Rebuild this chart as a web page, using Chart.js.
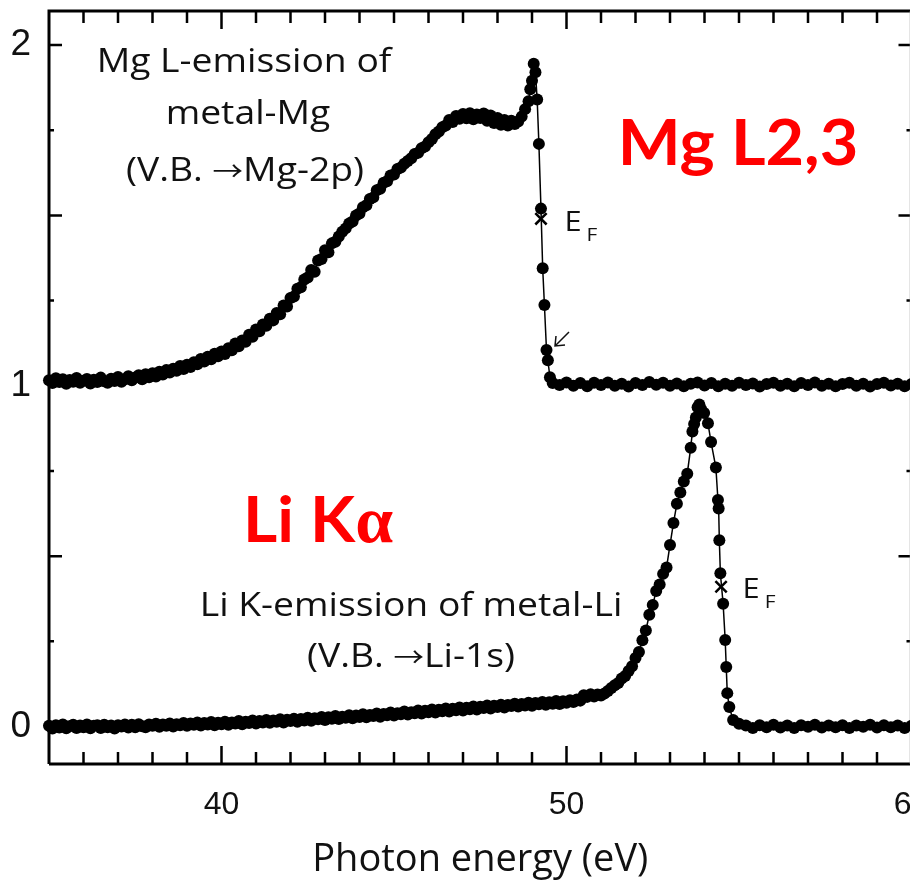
<!DOCTYPE html>
<html>
<head>
<meta charset="utf-8">
<script src="https://cdn.jsdelivr.net/npm/chart.js@4/dist/chart.umd.min.js"></script>
<style>
  html, body { margin: 0; padding: 0; background: #fff; overflow: hidden; }
</style>
</head>
<body>
<canvas id="chart" width="922" height="885"></canvas>
<script>
// Mg L-emission (shifted up by 1)
const mgEnergy = [
  35.0, 35.1, 35.2, 35.3, 35.4, 35.5, 35.6, 35.7, 35.8, 35.9,
  36.0, 36.1, 36.2, 36.3, 36.4, 36.5, 36.6, 36.7, 36.8, 36.9,
  37.0, 37.1, 37.2, 37.3, 37.4, 37.5, 37.6, 37.7, 37.8, 37.9,
  38.0, 38.1, 38.2, 38.3, 38.4, 38.5, 38.6, 38.7, 38.8, 38.9,
  39.0, 39.1, 39.2, 39.3, 39.4, 39.5, 39.6, 39.7, 39.8, 39.9,
  40.0, 40.1, 40.2, 40.3, 40.4, 40.5, 40.6, 40.7, 40.8, 40.9,
  41.0, 41.1, 41.2, 41.3, 41.4, 41.5, 41.6, 41.7, 41.8, 41.9,
  42.0, 42.1, 42.2, 42.3, 42.4, 42.5, 42.6, 42.7, 42.8, 42.9,
  43.0, 43.1, 43.2, 43.3, 43.4, 43.5, 43.6, 43.7, 43.8, 43.9,
  44.0, 44.1, 44.2, 44.3, 44.4, 44.5, 44.6, 44.7, 44.8, 44.9,
  45.0, 45.1, 45.2, 45.3, 45.4, 45.5, 45.6, 45.7, 45.8, 45.9,
  46.0, 46.1, 46.2, 46.3, 46.4, 46.5, 46.6, 46.7, 46.8, 46.9,
  47.0, 47.1, 47.2, 47.3, 47.4, 47.5, 47.6, 47.7, 47.8, 47.9,
  48.0, 48.1, 48.2, 48.3, 48.4, 48.5, 48.6, 48.7, 48.8,
  48.9, 48.95, 49.0, 49.05, 49.1, 49.15, 49.2, 49.26, 49.31, 49.36,
  49.42, 49.46, 49.52, 49.6,
  49.8, 50.0, 50.2, 50.4, 50.6, 50.8, 51.0, 51.2, 51.4, 51.6,
  51.8, 52.0, 52.2, 52.4, 52.6, 52.8, 53.0, 53.2, 53.4, 53.6,
  53.8, 54.0, 54.2, 54.4, 54.6, 54.8, 55.0, 55.2, 55.4, 55.6,
  55.8, 56.0, 56.2, 56.4, 56.6, 56.8, 57.0, 57.2, 57.4, 57.6,
  57.8, 58.0, 58.2, 58.4, 58.6, 58.8, 59.0, 59.2, 59.4, 59.6,
  59.8, 60.0
];
const mgIntensity = [
  1.016, 1.008, 1.022, 1.011, 1.019, 1.006, 1.017, 1.012, 1.023, 1.009,
  1.015, 1.020, 1.007, 1.018, 1.011, 1.024, 1.013, 1.009, 1.021, 1.014,
  1.026, 1.012, 1.019, 1.028, 1.016, 1.024, 1.031, 1.019, 1.034, 1.025,
  1.037, 1.027, 1.041, 1.033, 1.046, 1.039, 1.050, 1.044, 1.058, 1.049,
  1.062, 1.055, 1.069, 1.063, 1.079, 1.071, 1.085, 1.078, 1.094, 1.087,
  1.101, 1.093, 1.110, 1.104, 1.124, 1.116, 1.133, 1.129, 1.150, 1.144,
  1.165, 1.160, 1.180, 1.176, 1.197, 1.192, 1.214, 1.210, 1.236, 1.233,
  1.258, 1.262, 1.285, 1.289, 1.312, 1.318, 1.340, 1.335, 1.368, 1.372,
  1.398, 1.392, 1.418, 1.423, 1.438, 1.452, 1.462, 1.476, 1.482, 1.500,
  1.506, 1.524, 1.530, 1.548, 1.553, 1.574, 1.578, 1.596, 1.600, 1.617,
  1.620, 1.636, 1.641, 1.652, 1.660, 1.668, 1.680, 1.684, 1.697, 1.702,
  1.715, 1.724, 1.738, 1.746, 1.759, 1.764, 1.780, 1.774, 1.792, 1.784,
  1.798, 1.785, 1.800, 1.782, 1.796, 1.786, 1.799, 1.778, 1.793, 1.771,
  1.786, 1.766, 1.780, 1.764, 1.778, 1.768, 1.776, 1.790, 1.812,
  1.835, 1.870, 1.895, 1.945, 1.920, 1.840, 1.710, 1.520, 1.345, 1.237,
  1.105, 1.075, 1.025, 1.008,
  1.002, 1.010, 1.000, 1.008, 0.999, 1.009, 1.002, 1.010, 1.000, 1.006,
  0.998, 1.008, 1.002, 1.011, 1.003, 1.009, 1.000, 1.007, 0.999, 1.006,
  1.010, 1.001, 1.008, 0.999, 1.006, 1.000, 1.009, 1.002, 1.007, 0.998,
  1.005, 1.009, 1.000, 1.006, 0.999, 1.008, 1.002, 1.010, 1.000, 1.006,
  0.999, 1.005, 1.009, 1.000, 1.006, 0.998, 1.005, 1.009, 1.001, 1.006,
  0.999, 1.005
];

// Li K-emission
const liEnergy = [
  35.0, 35.1, 35.2, 35.3, 35.4, 35.5, 35.6, 35.7, 35.8, 35.9,
  36.0, 36.1, 36.2, 36.3, 36.4, 36.5, 36.6, 36.7, 36.8, 36.9,
  37.0, 37.1, 37.2, 37.3, 37.4, 37.5, 37.6, 37.7, 37.8, 37.9,
  38.0, 38.1, 38.2, 38.3, 38.4, 38.5, 38.6, 38.7, 38.8, 38.9,
  39.0, 39.1, 39.2, 39.3, 39.4, 39.5, 39.6, 39.7, 39.8, 39.9,
  40.0, 40.1, 40.2, 40.3, 40.4, 40.5, 40.6, 40.7, 40.8, 40.9,
  41.0, 41.1, 41.2, 41.3, 41.4, 41.5, 41.6, 41.7, 41.8, 41.9,
  42.0, 42.1, 42.2, 42.3, 42.4, 42.5, 42.6, 42.7, 42.8, 42.9,
  43.0, 43.1, 43.2, 43.3, 43.4, 43.5, 43.6, 43.7, 43.8, 43.9,
  44.0, 44.1, 44.2, 44.3, 44.4, 44.5, 44.6, 44.7, 44.8, 44.9,
  45.0, 45.1, 45.2, 45.3, 45.4, 45.5, 45.6, 45.7, 45.8, 45.9,
  46.0, 46.1, 46.2, 46.3, 46.4, 46.5, 46.6, 46.7, 46.8, 46.9,
  47.0, 47.1, 47.2, 47.3, 47.4, 47.5, 47.6, 47.7, 47.8, 47.9,
  48.0, 48.1, 48.2, 48.3, 48.4, 48.5, 48.6, 48.7, 48.8, 48.9,
  49.0, 49.1, 49.2, 49.3, 49.4, 49.5, 49.6, 49.7, 49.8, 49.9,
  50.0, 50.1, 50.2, 50.3, 50.4, 50.5, 50.6, 50.7, 50.8, 50.9,
  51.0, 51.1, 51.2, 51.3, 51.4, 51.5, 51.6, 51.7, 51.8, 51.9,
  52.0, 52.1, 52.2, 52.3, 52.4, 52.5, 52.6, 52.7, 52.8, 52.9,
  53.0, 53.1, 53.2, 53.3, 53.4, 53.5, 53.6, 53.65, 53.7, 53.75,
  53.8, 53.85, 53.9, 53.99, 54.1, 54.19, 54.33, 54.39, 54.41, 54.43,
  54.46, 54.54, 54.6, 54.63, 54.66, 54.72, 54.83, 55.0,
  55.2, 55.4, 55.6, 55.8, 56.0, 56.2, 56.4, 56.6, 56.8, 57.0,
  57.2, 57.4, 57.6, 57.8, 58.0, 58.2, 58.4, 58.6, 58.8, 59.0,
  59.2, 59.4, 59.6, 59.8, 60.0
];
const liIntensity = [
  0.002, -0.006, 0.004, -0.003, 0.006, -0.005, 0.001, 0.005, -0.004, 0.003,
  -0.002, 0.006, -0.005, 0.002, 0.004, -0.004, 0.005, -0.002, 0.003, -0.006,
  0.004, 0.000, 0.006, -0.003, 0.005, -0.002, 0.007, 0.001, -0.002, 0.006,
  0.002, 0.008, -0.001, 0.006, 0.002, 0.009, 0.000, 0.007, 0.004, 0.010,
  0.002, 0.009, 0.005, 0.012, 0.003, 0.010, 0.006, 0.013, 0.004, 0.011,
  0.007, 0.014, 0.005, 0.012, 0.009, 0.016, 0.007, 0.014, 0.010, 0.018,
  0.009, 0.016, 0.012, 0.019, 0.011, 0.018, 0.014, 0.021, 0.012, 0.020,
  0.016, 0.023, 0.014, 0.022, 0.018, 0.026, 0.017, 0.024, 0.021, 0.028,
  0.019, 0.027, 0.023, 0.031, 0.022, 0.029, 0.026, 0.033, 0.024, 0.032,
  0.028, 0.036, 0.027, 0.034, 0.031, 0.038, 0.029, 0.037, 0.033, 0.041,
  0.032, 0.039, 0.036, 0.044, 0.035, 0.042, 0.039, 0.047, 0.038, 0.046,
  0.042, 0.050, 0.041, 0.049, 0.045, 0.053, 0.044, 0.052, 0.048, 0.056,
  0.047, 0.055, 0.051, 0.059, 0.050, 0.058, 0.054, 0.062, 0.053, 0.061,
  0.057, 0.064, 0.056, 0.063, 0.060, 0.067, 0.059, 0.066, 0.062, 0.070,
  0.061, 0.069, 0.065, 0.072, 0.064, 0.071, 0.067, 0.075, 0.066, 0.074,
  0.070, 0.077, 0.072, 0.079, 0.076, 0.092, 0.087, 0.095, 0.088, 0.094,
  0.091, 0.097, 0.104, 0.113, 0.121, 0.128, 0.141, 0.148, 0.163, 0.177,
  0.201, 0.219, 0.253, 0.282, 0.328, 0.357, 0.398, 0.417, 0.448, 0.467,
  0.533, 0.597, 0.654, 0.687, 0.719, 0.742, 0.818, 0.866, 0.888, 0.907,
  0.937, 0.945, 0.932, 0.920, 0.890, 0.835, 0.760, 0.665, 0.640, 0.547,
  0.450, 0.360, 0.254, 0.175, 0.098, 0.057, 0.019, 0.008,
  0.003, -0.004, 0.004, -0.002, 0.005, -0.003, 0.003, -0.004, 0.004, -0.001,
  0.005, -0.003, 0.003, -0.002, 0.004, -0.004, 0.003, -0.001, 0.005, -0.003,
  0.004, -0.002, 0.003, -0.004, 0.002
];

// Fermi level marks
const fermiEnergy = [49.26, 54.48];
const fermiIntensity = [1.49, 0.41];

const xLabelTicks = [40, 50, 60];
const xMinorTicks = [36, 37, 38, 39, 41, 42, 43, 44, 45, 46, 47, 48, 49, 51, 52, 53, 54, 55, 56, 57, 58, 59];
const yLabelTicks = [0, 1, 2];
const yHalfTicks = [0.5, 1.5];
const yQuarterTicks = [0.25, 0.75, 1.25, 1.75];

const toPoints = (xs, ys) => xs.map((x, i) => ({ x: x, y: ys[i] }));

const frame = {
  id: 'frame',
  beforeDatasetsDraw(chart) {
    const { ctx, chartArea: a, scales: { x, y } } = chart;
    ctx.save();
    ctx.strokeStyle = '#000';
    ctx.lineCap = 'butt';
    ctx.lineWidth = 3;
    ctx.beginPath();
    ctx.moveTo(a.left, a.bottom);
    ctx.lineTo(a.left, a.top);
    ctx.lineTo(a.right, a.top);
    ctx.moveTo(a.left, a.bottom);
    ctx.lineTo(a.right, a.bottom);
    ctx.stroke();

    ctx.lineWidth = 2.5;
    const xt = (v, len) => {
      const px = x.getPixelForValue(v);
      ctx.beginPath();
      ctx.moveTo(px, a.bottom); ctx.lineTo(px, a.bottom - len);
      ctx.moveTo(px, a.top); ctx.lineTo(px, a.top + len);
      ctx.stroke();
    };
    xMinorTicks.forEach(v => xt(v, 12));
    xLabelTicks.forEach(v => xt(v, 18));
    const yt = (v, len) => {
      const py = y.getPixelForValue(v);
      ctx.beginPath();
      ctx.moveTo(a.left, py); ctx.lineTo(a.left + len, py);
      ctx.moveTo(a.right, py); ctx.lineTo(a.right - len, py);
      ctx.stroke();
    };
    yLabelTicks.forEach(v => yt(v, 13));
    yHalfTicks.forEach(v => yt(v, 13));
    yQuarterTicks.forEach(v => yt(v, 5));

    ctx.strokeStyle = '#999';
    ctx.lineWidth = 1.5;
    ctx.beginPath();
    ctx.moveTo(a.right - 1, a.top); ctx.lineTo(a.right - 1, a.bottom);
    ctx.stroke();
    ctx.restore();
  }
};

// the figure's lettering is wider than our fonts, so stretch it a little;
// runs = [[text, font], ...] drawn one after another, centred on cx
function runText(ctx, runs, cx, base, sx) {
  ctx.save();
  ctx.translate(cx, base);
  ctx.scale(sx, 1);
  ctx.textAlign = 'left';
  let total = 0;
  runs.forEach(r => { ctx.font = r[1]; total += ctx.measureText(r[0]).width; });
  let xx = -total / 2;
  runs.forEach(r => {
    ctx.font = r[1];
    ctx.fillText(r[0], xx, 0);
    xx += ctx.measureText(r[0]).width;
  });
  ctx.restore();
}

const labels = {
  id: 'labels',
  afterDatasetsDraw(chart) {
    const { ctx, scales: { x, y } } = chart;
    ctx.save();
    ctx.fillStyle = '#111';
    ctx.textBaseline = 'alphabetic';
    const f = '33px "Open Sans"';
    const arrow = '27px "Noto Sans CJK JP"';
    runText(ctx, [['Mg L-emission of', f]], 244, 72, 1.13);
    runText(ctx, [['metal-Mg', f]], 248, 124, 1.13);
    runText(ctx, [['(V.B. ', f], ['\u2192', arrow], ['Mg-2p)', f]], 245, 181, 1.13);
    runText(ctx, [['Li K-emission of metal-Li', f]], 411, 616, 1.13);
    runText(ctx, [['(V.B. ', f], ['\u2192', arrow], ['Li-1s)', f]], 411, 667, 1.13);

    // E_F labels next to the Fermi marks
    const ef = (i, dx, dy) => {
      const px = x.getPixelForValue(fermiEnergy[i]) + dx;
      const py = y.getPixelForValue(fermiIntensity[i]) + dy;
      runText(ctx, [['E', '28px "Open Sans"']], px + 8, py, 1.1);
      runText(ctx, [['F', '19px "Open Sans"']], px + 27, py + 10, 1.1);
    };
    ef(0, 24, 12);
    ef(1, 22, 11);

    // small arrow at the Mg edge
    ctx.strokeStyle = '#111';
    ctx.lineWidth = 1.5;
    ctx.beginPath();
    ctx.moveTo(569, 332); ctx.lineTo(555, 346);
    ctx.moveTo(556, 336); ctx.lineTo(555, 346); ctx.lineTo(565, 345);
    ctx.stroke();

    ctx.fillStyle = '#ff0000';
    runText(ctx, [['Mg L2,3', 'bold 64px Lato']], 738, 165, 1.04);
    runText(ctx, [['Li K', 'bold 64px Lato'], ['\u03b1', 'bold 66px "Liberation Serif"']], 318, 542, 1.03);
    ctx.restore();
  }
};

const lineSet = (xs, ys) => ({
  data: toPoints(xs, ys),
  showLine: true,
  borderColor: '#000',
  borderWidth: 1.5,
  pointRadius: 6,
  pointBackgroundColor: '#000',
  pointBorderColor: '#000',
  pointBorderWidth: 0,
  clip: 10
});

new Chart(document.getElementById('chart'), {
  type: 'scatter',
  data: {
    datasets: [
      lineSet(mgEnergy, mgIntensity),
      lineSet(liEnergy, liIntensity),
      {
        data: toPoints(fermiEnergy, fermiIntensity),
        showLine: false,
        pointStyle: 'crossRot',
        pointRadius: 8,
        pointBorderWidth: 2.5,
        pointBorderColor: '#000',
        clip: 10
      }
    ]
  },
  options: {
    responsive: false,
    animation: false,
    layout: { padding: { top: 11, right: 0, left: 0, bottom: 0 } },
    plugins: { legend: { display: false }, tooltip: { enabled: false } },
    scales: {
      x: {
        type: 'linear',
        min: 35,
        max: 60,
        afterBuildTicks: s => { s.ticks = xLabelTicks.map(v => ({ value: v })); },
        afterFit: s => { s.height = 121; s.paddingLeft = 0; s.paddingRight = 0; },
        grid: { display: false, drawTicks: false },
        border: { display: false },
        ticks: {
          color: '#111',
          font: { family: 'Liberation Sans', size: 32 },
          padding: 22,
          maxRotation: 0,
          autoSkip: false
        },
        title: {
          display: true,
          text: 'Photon energy (eV)',
          color: '#111',
          font: { family: 'Open Sans', size: 38 },
          padding: { top: 0, bottom: 2 }
        }
      },
      y: {
        min: -0.11,
        max: 2.1,
        afterBuildTicks: s => { s.ticks = yLabelTicks.map(v => ({ value: v })); },
        afterFit: s => { s.width = 49; s.paddingTop = 0; s.paddingBottom = 0; },
        grid: { display: false, drawTicks: false },
        border: { display: false },
        ticks: {
          color: '#111',
          font: { family: 'Liberation Sans', size: 37 },
          padding: 18
        }
      }
    }
  },
  plugins: [frame, labels]
});
</script>
</body>
</html>
